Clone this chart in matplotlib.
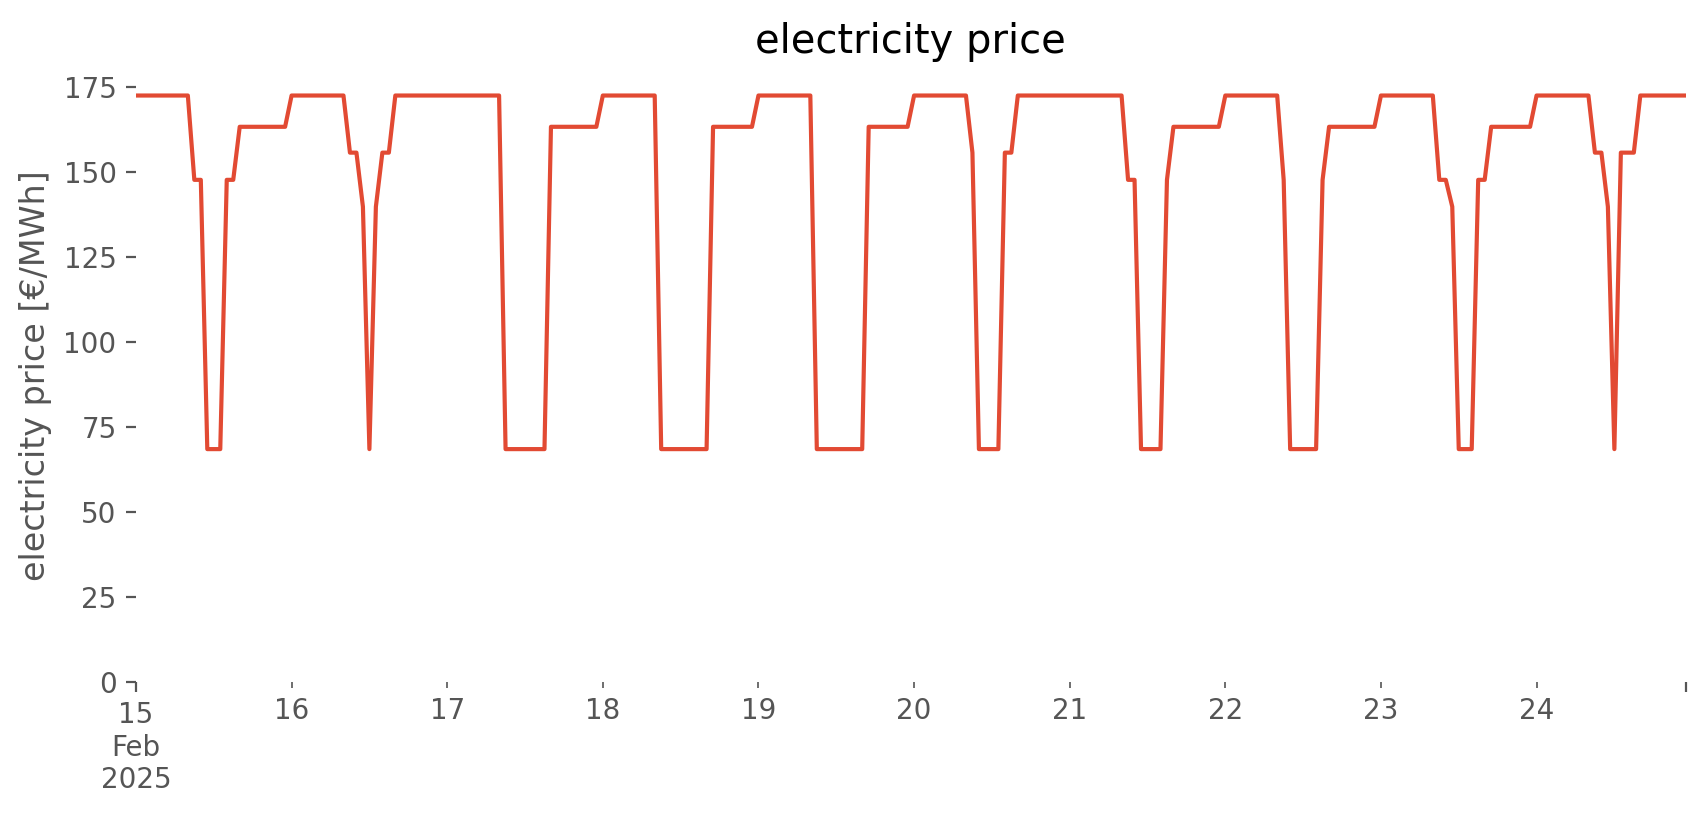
import matplotlib
matplotlib.use("Agg")
import matplotlib.pyplot as plt
from matplotlib.ticker import MultipleLocator
import pandas as pd

plt.style.use("ggplot")
plt.rcParams["axes.facecolor"] = "white"
plt.rcParams["axes.grid"] = False

start = "2025-02-15 00:00"
title = "electricity price"
ylabel = "electricity price [€/MWh]"

# hourly prices [€/MWh], one list per day
feb15 = [172.4]*9 + [147.6]*2 + [68.4]*3 + [147.6]*2 + [163.2]*8
feb16 = [172.4]*9 + [155.6]*2 + [139.7, 68.4, 139.7] + [155.6]*2 + [172.4]*8
feb17 = [172.4]*9 + [68.4]*7 + [163.2]*8
feb18 = [172.4]*9 + [68.4]*8 + [163.2]*7
feb19 = [172.4]*9 + [68.4]*8 + [163.2]*7
feb20 = [172.4]*9 + [155.6] + [68.4]*4 + [155.6]*2 + [172.4]*8
feb21 = [172.4]*9 + [147.6]*2 + [68.4]*4 + [147.6] + [163.2]*8
feb22 = [172.4]*9 + [147.6] + [68.4]*5 + [147.6] + [163.2]*8
feb23 = [172.4]*9 + [147.6]*2 + [139.7] + [68.4]*3 + [147.6]*2 + [163.2]*7
feb24 = [172.4]*9 + [155.6]*2 + [139.7, 68.4] + [155.6]*3 + [172.4]*8

prices = (feb15 + feb16 + feb17 + feb18 + feb19 + feb20 +
          feb21 + feb22 + feb23 + feb24)
index = pd.date_range(start, periods=len(prices), freq="h")
series = pd.Series(prices, index=index)

fig = plt.figure(figsize=(8.53, 4.075), dpi=200)
ax = fig.add_axes([0.0797, 0.1636, 0.9084, 0.7509])
series.plot(ax=ax)
ax.set_ylim(0, 180)
ax.yaxis.set_major_locator(MultipleLocator(25))
ax.set_title(title)
ax.set_ylabel(ylabel)
ax.set_xlabel("")
for s in ax.spines.values():
    s.set_visible(False)

fig.savefig("out.png", dpi=200)
